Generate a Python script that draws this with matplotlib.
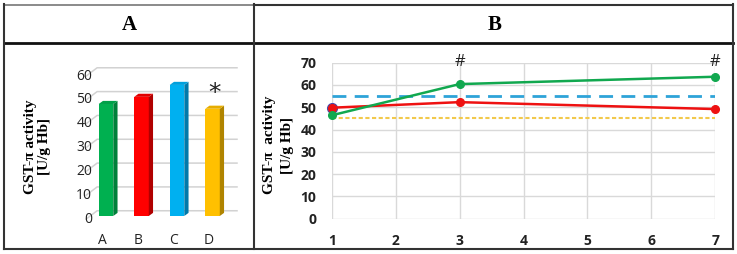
import matplotlib
matplotlib.use("Agg")
import matplotlib.pyplot as plt
from matplotlib.lines import Line2D

# ---------------- data ----------------
bar_categories = ["A", "B", "C", "D"]
bar_values = [47.0, 50.0, 55.0, 45.0]
bar_yticks = [0, 10, 20, 30, 40, 50, 60]

days = [1, 3, 7]
green_values = [46.4, 60.4, 63.7]
red_values = [49.8, 52.3, 49.2]
blue_point_x = [1]
blue_point_y = [49.8]
ref_x = [1, 7]
blue_ref = [55.0, 55.0]
yellow_ref = [45.3, 45.3]
line_xticks = [1, 2, 3, 4, 5, 6, 7]
line_yticks = [0, 10, 20, 30, 40, 50, 60, 70]
hash_x = [3, 7]

W, H = 737, 254
fig = plt.figure(figsize=(W / 100, H / 100), dpi=100)


def px_axes(left, top, right, bottom, **kw):
    return fig.add_axes([left / W, 1 - bottom / H, (right - left) / W, (bottom - top) / H], **kw)


# ---------------- overlay (table frame + titles) ----------------
ov = px_axes(0, 0, W, H)
ov.set_xlim(0, W)
ov.set_ylim(H, 0)
ov.axis("off")
frame = "#333333"
ov.add_line(Line2D([4, 254], [4.5, 4.5], color="#777777", lw=1.2))
ov.add_line(Line2D([254, 733], [4.5, 4.5], color=frame, lw=1.5))
ov.add_line(Line2D([4, 733], [43, 43], color="#111111", lw=2.0))
ov.add_line(Line2D([4, 4], [4, 249], color=frame, lw=1.5))
ov.add_line(Line2D([254, 254], [4, 249], color=frame, lw=1.5))
ov.add_line(Line2D([733, 733], [4, 249], color=frame, lw=1.5))
ov.add_line(Line2D([4, 733], [249, 249], color=frame, lw=1.5))
ov.text(129, 25, "A", fontsize=15, fontweight="bold", family="Liberation Serif",
        ha="center", va="center")
ov.text(495, 25, "B", fontsize=15, fontweight="bold", family="Liberation Serif",
        ha="center", va="center")

# ---------------- panel A (pseudo-3D bars) ----------------
axA = px_axes(80, 55, 245, 225)
axA.set_xlim(-0.732, 3.915)
axA.set_ylim(-3.78, 67.56)
axA.axis("off")
for v in bar_yticks:
    axA.plot([-0.56, -0.25, 3.69], [v - 1.3, v + 2.2, v + 2.2], color="#d2d2d2", lw=1.1, zorder=1)
    axA.text(-0.39, v - 1.3, str(v), ha="right", va="center", fontsize=10,
             family="Open Sans", color="#222222")

fronts = ["#00b050", "#ff0000", "#00b0f0", "#ffc000"]
sides = ["#00803a", "#b00000", "#0079aa", "#b08400"]
tops = ["#00a049", "#e00000", "#00a0dc", "#e6ad00"]
w, dx, dy = 0.41, 0.12, 1.3
for i, v in enumerate(bar_values):
    x0, x1 = i - w / 2, i + w / 2
    axA.fill([x0, x1, x1, x0], [0, 0, v, v], color=fronts[i], lw=0, zorder=3)
    axA.fill([x1, x1 + dx, x1 + dx, x1], [0, dy, v + dy, v], color=sides[i], lw=0, zorder=3)
    axA.fill([x0, x1, x1 + dx, x0 + dx], [v, v, v + dy, v + dy], color=tops[i], lw=0, zorder=3)
    axA.text(i - 0.1, -10.1, bar_categories[i], ha="center", va="center", fontsize=10,
             family="Open Sans", color="#222222", clip_on=False)
axA.text(3.07, 51.5, "*", ha="center", va="center", fontsize=18, color="#222222")
axA.text(-1.94, 29, "GST-\u03c0 activity\n[U/g Hb]", rotation=90, ha="center", va="center",
         fontsize=11, fontweight="bold", family="Liberation Serif", linespacing=1.1,
         clip_on=False)

# ---------------- panel B (lines) ----------------
axB = px_axes(331.7, 62.7, 715.3, 218.7)
axB.set_xlim(1, 7)
axB.set_ylim(0, 70)
for s in axB.spines.values():
    s.set_visible(False)
axB.set_xticks(line_xticks)
axB.set_yticks(line_yticks)
axB.grid(True, color="#d9d9d9", lw=1.0)
axB.set_axisbelow(True)
axB.tick_params(length=0, labelsize=10)
axB.tick_params(axis="y", pad=11)
axB.tick_params(axis="x", pad=11)
for lab in axB.get_xticklabels() + axB.get_yticklabels():
    lab.set_fontweight("bold")
    lab.set_family("Open Sans")
    lab.set_color("#222222")

axB.plot(ref_x, blue_ref, color="#2ea3d8", lw=2.0, dashes=(5, 3), zorder=3)
axB.plot(ref_x, yellow_ref, color="#f2c94c", lw=1.5, dashes=(2, 1.2), zorder=3)
axB.plot(blue_point_x, blue_point_y, "o", color="#4a4aa8", ms=7, zorder=4, clip_on=False)
axB.plot(days, red_values, "-o", color="#ee1111", lw=1.8, ms=5.5, zorder=5, clip_on=False)
axB.plot(days, green_values, "-o", color="#11a84f", lw=1.8, ms=5.5, zorder=6, clip_on=False)
for hx in hash_x:
    axB.text(hx, 70.2, "#", ha="center", va="center", fontsize=12, color="#222222",
             family="Open Sans", clip_on=False)
axB.text(0.175, 33, "GST-\u03c0  activity\n[U/g Hb]", rotation=90, ha="center", va="center",
         fontsize=11, fontweight="bold", family="Liberation Serif", linespacing=1.5,
         clip_on=False)

fig.savefig("out.png", dpi=100)
